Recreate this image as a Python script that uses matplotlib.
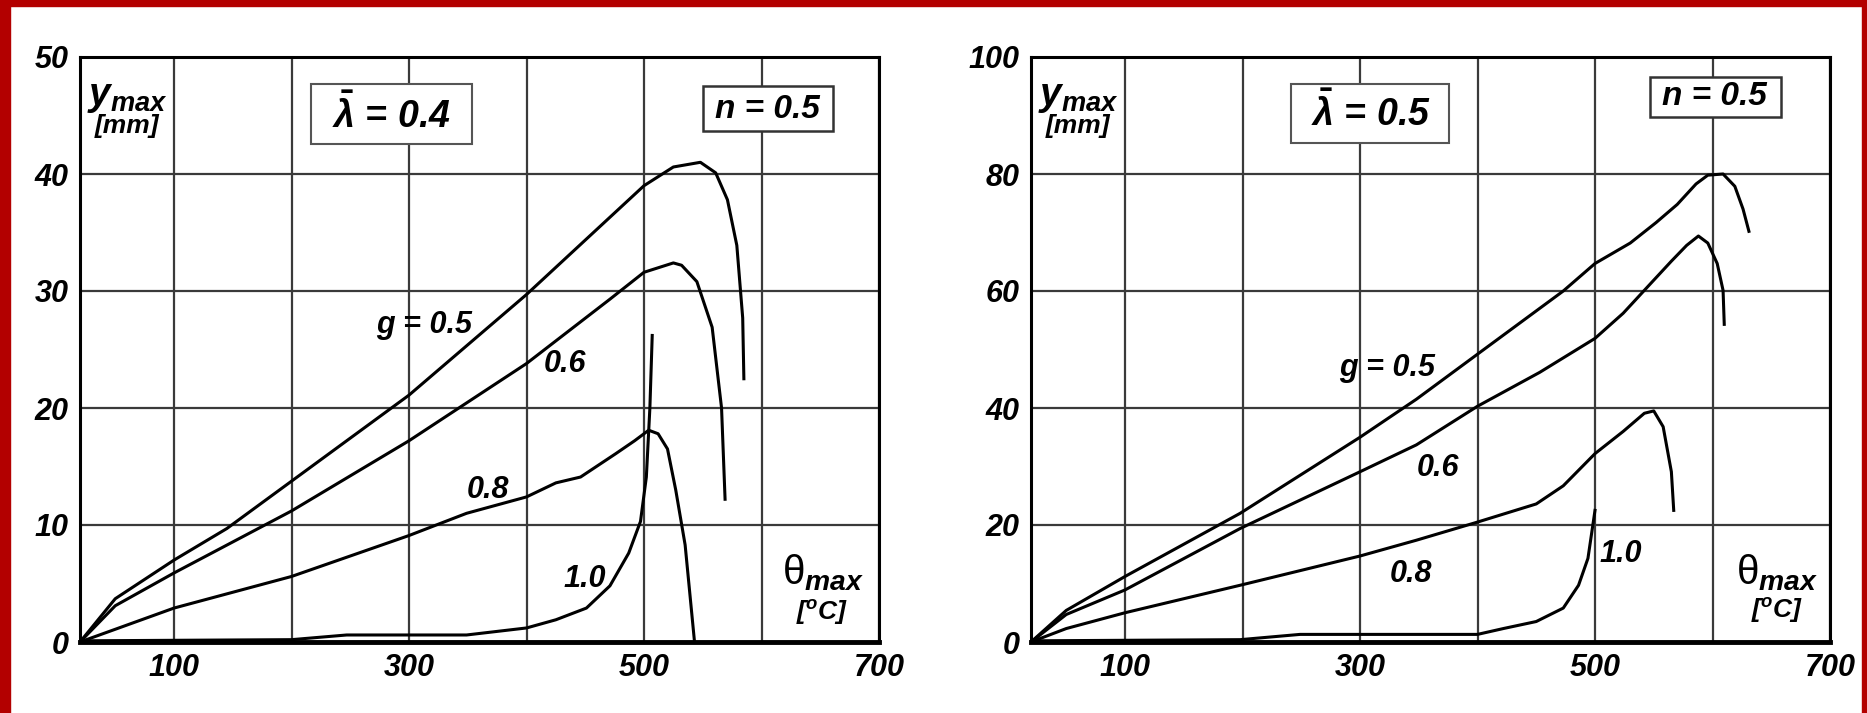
import numpy as np
from matplotlib import pyplot as plt
from matplotlib.patches import Rectangle

plt.rcParams['font.family'] = ['Liberation Sans', 'DejaVu Sans']
plt.rcParams['mathtext.fontset'] = 'custom'
plt.rcParams['mathtext.it'] = 'Liberation Sans:italic:bold'
plt.rcParams['mathtext.rm'] = 'Liberation Sans:bold'
plt.rcParams['mathtext.bf'] = 'Liberation Sans:italic:bold'
plt.rcParams['mathtext.sf'] = 'Liberation Sans'

# left panel, lambda = 0.4
l_g05_x = [20, 50, 100, 145, 300, 400, 500, 525, 548, 561, 571, 579, 584, 585]
l_g05_y = [0, 3.7, 7.0, 9.7, 21.1, 29.7, 39.0, 40.6, 41.0, 40.1, 37.8, 33.9, 27.7, 22.5]
l_g06_x = [20, 50, 100, 200, 300, 400, 471, 500, 525, 532, 545, 558, 566, 569]
l_g06_y = [0, 3.1, 5.9, 11.2, 17.2, 23.8, 29.3, 31.6, 32.4, 32.2, 30.8, 26.9, 20.0, 12.2]
l_g08_x = [20, 100, 200, 300, 349, 400, 425, 446, 476, 492, 504, 512, 520, 527, 535, 543]
l_g08_y = [0, 2.9, 5.6, 9.1, 11.0, 12.4, 13.6, 14.1, 16.1, 17.2, 18.1, 17.8, 16.5, 13.0, 8.3, 0]
l_g10_x = [20, 200, 247, 349, 400, 425, 451, 471, 487, 497, 502, 505, 507]
l_g10_y = [0.1, 0.2, 0.6, 0.6, 1.2, 1.9, 2.9, 4.8, 7.6, 10.3, 14.1, 20.0, 26.2]

# right panel, lambda = 0.5
r_g05_x = [20, 50, 100, 198, 300, 348, 400, 473, 500, 530, 552, 570, 586, 596, 609, 619, 626, 631]
r_g05_y = [0, 5.4, 11.2, 22.0, 35.0, 41.5, 49.2, 60.0, 64.7, 68.2, 71.7, 74.8, 78.3, 79.8, 80.0, 77.9, 74.0, 70.2]
r_g06_x = [20, 50, 100, 198, 300, 348, 400, 453, 500, 524, 547, 565, 578, 588, 596, 604, 609, 610]
r_g06_y = [0, 4.7, 8.9, 19.4, 29.1, 33.7, 40.3, 46.1, 51.9, 56.2, 61.2, 65.1, 67.8, 69.4, 68.2, 64.7, 60.1, 54.3]
r_g08_x = [20, 50, 100, 198, 300, 348, 400, 450, 473, 500, 524, 542, 550, 558, 565, 567]
r_g08_y = [0, 2.3, 5.0, 9.7, 14.7, 17.4, 20.5, 23.6, 26.7, 32.2, 36.0, 39.1, 39.5, 36.8, 29.1, 22.5]
r_g10_x = [20, 198, 249, 400, 422, 450, 473, 486, 494, 500]
r_g10_y = [0.2, 0.4, 1.3, 1.3, 2.3, 3.5, 5.8, 9.7, 14.3, 22.5]

panels = [
    dict(curves=[(l_g05_x, l_g05_y), (l_g06_x, l_g06_y), (l_g08_x, l_g08_y), (l_g10_x, l_g10_y)],
         ymax=50, ystep=10, lam='0.4',
         labels=[('g = 0.5', 313, 27.1), ('0.6', 433, 23.8), ('0.8', 367, 13.0), ('1.0', 450, 5.4)],
         lambox=(217, 42.6, 137, 5.1), lampos=(285, 45.0),
         nbox=(550, 43.7, 111, 3.8), npos=(605, 45.5),
         ypos=(60, 46.6, 44.1), tpos=(652, 5.9, 2.5)),
    dict(curves=[(r_g05_x, r_g05_y), (r_g06_x, r_g06_y), (r_g08_x, r_g08_y), (r_g10_x, r_g10_y)],
         ymax=100, ystep=20, lam='0.5',
         labels=[('g = 0.5', 323, 46.9), ('0.6', 366, 29.8), ('0.8', 343, 11.6), ('1.0', 522, 15.1)],
         lambox=(241, 85.3, 135, 10.0), lampos=(309, 90.3),
         nbox=(547, 89.7, 111, 6.8), npos=(602, 93.2),
         ypos=(60, 93.2, 88.2), tpos=(655, 11.8, 5.4)),
]

fig = plt.figure(figsize=(18.67, 7.13), dpi=100)
fig.patch.set_facecolor('white')
# red frame (top, left, right)
fig.patches.append(Rectangle((0, 1 - 6 / 713), 1, 6 / 713, transform=fig.transFigure, color='#b30000', zorder=0))
fig.patches.append(Rectangle((0, 0), 10 / 1867, 1, transform=fig.transFigure, color='#b30000', zorder=0))
fig.patches.append(Rectangle((1 - 5 / 1867, 0), 5 / 1867, 1, transform=fig.transFigure, color='#b30000', zorder=0))

lefts = [80 / 1867, 1031 / 1867]
for p, left in zip(panels, lefts):
    ax = fig.add_axes([left, 1 - 642 / 713, 799 / 1867, 585 / 713])
    ax.set_xlim(20, 700)
    ax.set_ylim(0, p['ymax'])
    ax.set_xticks(range(100, 701, 100))
    ax.set_xticklabels(['100', '', '300', '', '500', '', '700'])
    ax.set_yticks(range(0, p['ymax'] + 1, p['ystep']))
    ax.grid(True, color='#3a3a3a', lw=1.6)
    ax.tick_params(length=0, labelsize=22, pad=8)
    for lab in ax.get_xticklabels() + ax.get_yticklabels():
        lab.set_fontweight('bold')
        lab.set_fontstyle('italic')
    for s in ax.spines.values():
        s.set_linewidth(2.2)
    ax.spines['bottom'].set_linewidth(3.5)

    for xs, ys in p['curves']:
        ax.plot(xs, ys, color='black', lw=2.2, zorder=3, solid_joinstyle='round')

    for txt, x, y in p['labels']:
        ax.text(x, y, txt, fontsize=22, fontweight='bold', fontstyle='italic',
                ha='center', va='center', zorder=4)

    bx, by, bw, bh = p['lambox']
    ax.add_patch(Rectangle((bx, by), bw, bh, facecolor='white', edgecolor='#555555', lw=1.5, zorder=4))
    ax.text(*p['lampos'], r'$\bar{\lambda}$ = ' + p['lam'], fontsize=27, fontweight='bold',
            fontstyle='italic', ha='center', va='center', zorder=5)
    bx, by, bw, bh = p['nbox']
    ax.add_patch(Rectangle((bx, by), bw, bh, facecolor='white', edgecolor='#333333', lw=1.8, zorder=4))
    ax.text(*p['npos'], 'n = 0.5', fontsize=24, fontweight='bold', fontstyle='italic',
            ha='center', va='center', zorder=5)

    yx, yy1, yy2 = p['ypos']
    ax.text(yx, yy1, r'$y_{max}$', fontsize=28, ha='center', va='center', zorder=5)
    ax.text(yx, yy2, '[mm]', fontsize=19, fontweight='bold', fontstyle='italic',
            ha='center', va='center', zorder=5)
    tx, ty1, ty2 = p['tpos']
    ax.text(tx, ty1, r'$\mathsf{\theta}_{max}$', fontsize=29, ha='center', va='center', zorder=5)
    ax.text(tx, ty2, r'[$^{o}$C]', fontsize=19, fontweight='bold', fontstyle='italic',
            ha='center', va='center', zorder=5)

fig.savefig('out.png', dpi=100)
